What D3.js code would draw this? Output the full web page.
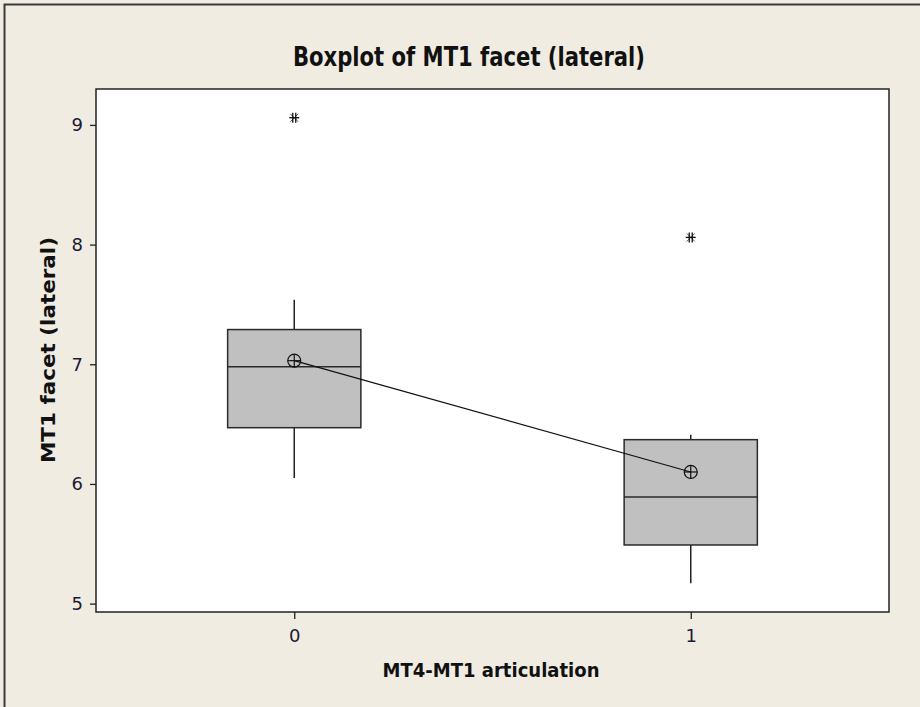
<!DOCTYPE html>
<html>
<head>
<meta charset="utf-8">
<script src="https://cdn.jsdelivr.net/npm/d3@7"></script>
<style>
  body { margin: 0; background: #f0ece2; }
  svg { display: block; }
</style>
</head>
<body>
<div id="my_dataviz"></div>
<script>
var groups = [0, 1];
var whiskerLow = [6.05, 5.17];
var q1 = [6.47, 5.49];
var median = [6.98, 5.89];
var q3 = [7.29, 6.37];
var whiskerHigh = [7.54, 6.41];
var means = [7.03, 6.10];
var outliers = [[9.06], [8.06]];
var yTicks = [5, 6, 7, 8, 9];

var margin = {top: 89, right: 31, bottom: 95, left: 96},
    width = 920 - margin.left - margin.right,
    height = 707 - margin.top - margin.bottom;

var root = d3.select("#my_dataviz")
  .append("svg")
    .attr("width", 920)
    .attr("height", 707);

// outer frame
root.append("rect")
  .attr("x", 4.5).attr("y", 4.5)
  .attr("width", 1000).attr("height", 1000)
  .style("fill", "#f0ece2")
  .style("stroke", "#3a3a3a")
  .style("stroke-width", 2);

var svg = root.append("g")
    .attr("transform", "translate(" + margin.left + "," + margin.top + ")");

// plot area
svg.append("rect")
  .attr("width", width)
  .attr("height", height)
  .style("fill", "#ffffff");

var x = d3.scaleLinear()
  .domain([-0.5, 1.5])
  .range([0, width]);

var y = d3.scaleLinear()
  .domain([4.93, 9.30])
  .range([height, 0]);

var halfBox = 0.168;

var xAxis = svg.append("g")
  .attr("transform", "translate(0," + height + ")")
  .call(d3.axisBottom(x).tickValues(groups).tickFormat(d3.format("d")).tickSize(7).tickPadding(10));

var yAxis = svg.append("g")
  .call(d3.axisLeft(y).tickValues(yTicks).tickFormat(d3.format("d")).tickSize(6).tickPadding(7));

[xAxis, yAxis].forEach(function(a) {
  a.select(".domain").remove();
  a.selectAll("line").style("stroke", "#222").style("stroke-width", 1.3);
  a.selectAll("text")
    .style("font-family", "DejaVu Sans, Verdana, sans-serif")
    .style("font-size", "18px")
    .style("fill", "#1a1a33");
});

// whiskers
groups.forEach(function(g, i) {
  svg.append("line")
    .attr("x1", x(g)).attr("x2", x(g))
    .attr("y1", y(whiskerHigh[i])).attr("y2", y(q3[i]))
    .style("stroke", "#222").style("stroke-width", 1.5);
  svg.append("line")
    .attr("x1", x(g)).attr("x2", x(g))
    .attr("y1", y(q1[i])).attr("y2", y(whiskerLow[i]))
    .style("stroke", "#222").style("stroke-width", 1.5);
});

// boxes
svg.selectAll("rect.box")
  .data(groups)
  .enter()
  .append("rect")
    .attr("class", "box")
    .attr("x", function(d) { return x(d - halfBox); })
    .attr("width", function(d) { return x(d + halfBox) - x(d - halfBox); })
    .attr("y", function(d, i) { return y(q3[i]); })
    .attr("height", function(d, i) { return y(q1[i]) - y(q3[i]); })
    .style("fill", "#c0c0c0")
    .style("stroke", "#2a2a2a")
    .style("stroke-width", 1.5);

svg.selectAll("line.median")
  .data(groups)
  .enter()
  .append("line")
    .attr("x1", function(d) { return x(d - halfBox); })
    .attr("x2", function(d) { return x(d + halfBox); })
    .attr("y1", function(d, i) { return y(median[i]); })
    .attr("y2", function(d, i) { return y(median[i]); })
    .style("stroke", "#2a2a2a")
    .style("stroke-width", 1.5);

// mean connect line
svg.append("path")
  .datum(groups)
  .attr("d", d3.line()
    .x(function(d) { return x(d); })
    .y(function(d, i) { return y(means[i]); }))
  .style("fill", "none")
  .style("stroke", "#111")
  .style("stroke-width", 1.2);

// mean symbols (circle with cross)
groups.forEach(function(g, i) {
  var cx = x(g), cy = y(means[i]), r = 6.5;
  svg.append("circle")
    .attr("cx", cx).attr("cy", cy).attr("r", r)
    .style("fill", "none").style("stroke", "#111").style("stroke-width", 1.2);
  svg.append("line")
    .attr("x1", cx - r).attr("x2", cx + r).attr("y1", cy).attr("y2", cy)
    .style("stroke", "#111").style("stroke-width", 1.2);
  svg.append("line")
    .attr("x1", cx).attr("x2", cx).attr("y1", cy - r).attr("y2", cy + r)
    .style("stroke", "#111").style("stroke-width", 1.2);
});

// outliers (asterisks)
groups.forEach(function(g, i) {
  outliers[i].forEach(function(v) {
    var cx = x(g), cy = y(v), s = 5;
    var star = svg.append("g").attr("transform", "translate(" + cx + "," + cy + ")");
    star.append("line").attr("x1", -s).attr("x2", s).attr("y1", 0).attr("y2", 0);
    star.append("line").attr("x1", -1.5).attr("x2", -1.5).attr("y1", -s).attr("y2", s);
    star.append("line").attr("x1", 1.5).attr("x2", 1.5).attr("y1", -s).attr("y2", s);
    star.append("line").attr("x1", -s * 0.8).attr("x2", s * 0.8).attr("y1", -s * 0.8).attr("y2", s * 0.8).style("stroke-width", 0.7);
    star.append("line").attr("x1", -s * 0.8).attr("x2", s * 0.8).attr("y1", s * 0.8).attr("y2", -s * 0.8).style("stroke-width", 0.7);
    star.selectAll("line").style("stroke", "#111").filter(function() { return !this.style.strokeWidth; }).style("stroke-width", 1.3);
  });
});

// plot border
svg.append("rect")
  .attr("width", width)
  .attr("height", height)
  .style("fill", "none")
  .style("stroke", "#222")
  .style("stroke-width", 1.5);

// title
root.append("text")
  .attr("x", 469)
  .attr("y", 66)
  .attr("textLength", 352)
  .attr("lengthAdjust", "spacingAndGlyphs")
  .style("text-anchor", "middle")
  .style("font-family", "'DejaVu Sans Condensed', 'DejaVu Sans', sans-serif")
  .style("font-weight", "bold")
  .style("font-size", "27px")
  .style("fill", "#111")
  .text("Boxplot of MT1 facet (lateral)");

// axis titles
root.append("text")
  .attr("x", 491)
  .attr("y", 677)
  .attr("textLength", 217)
  .attr("lengthAdjust", "spacingAndGlyphs")
  .style("text-anchor", "middle")
  .style("font-family", "DejaVu Sans, Verdana, sans-serif")
  .style("font-weight", "bold")
  .style("font-size", "19px")
  .style("fill", "#111")
  .text("MT4-MT1 articulation");

root.append("text")
  .attr("transform", "translate(55,350) rotate(-90)")
  .attr("textLength", 226)
  .attr("lengthAdjust", "spacingAndGlyphs")
  .style("text-anchor", "middle")
  .style("font-family", "DejaVu Sans, Verdana, sans-serif")
  .style("font-weight", "bold")
  .style("font-size", "19px")
  .style("fill", "#111")
  .text("MT1 facet (lateral)");
</script>
</body>
</html>
